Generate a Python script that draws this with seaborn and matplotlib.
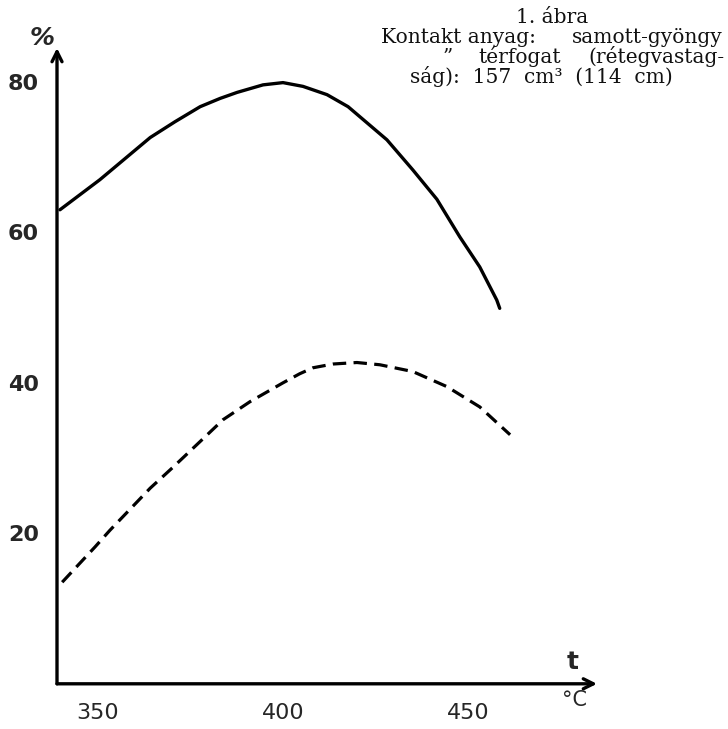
import matplotlib
matplotlib.use("Agg")
import matplotlib.pyplot as plt
import seaborn as sns
import pandas as pd

# ---- data ----
solid_t = [339.7, 350.5, 357.3, 364.1, 370.8, 377.6, 383.0, 387.6, 394.6, 400.0,
           405.4, 411.9, 417.6, 428.1, 435.1, 441.6, 447.8, 453.2, 457.8, 458.6]
solid_v = [63.0, 67.0, 69.8, 72.6, 74.7, 76.7, 77.8, 78.6, 79.6, 79.9,
           79.4, 78.3, 76.7, 72.3, 68.3, 64.4, 59.4, 55.4, 51.0, 49.9]

dashed_t = [340.3, 349.2, 353.2, 364.1, 370.3, 377.6, 383.8, 391.1, 400.0,
            404.5, 408.1, 413.5, 420.0, 426.2, 435.1, 444.3, 453.2, 461.4]
dashed_v = [13.5, 18.2, 20.4, 26.0, 28.8, 32.2, 35.1, 37.5, 40.0,
            41.2, 42.0, 42.5, 42.7, 42.4, 41.5, 39.5, 36.8, 33.1]

x_ticks = [350, 400, 450]
y_ticks = [20, 40, 60, 80]

df_solid = pd.DataFrame({"t": solid_t, "v": solid_v})
df_dashed = pd.DataFrame({"t": dashed_t, "v": dashed_v})

sns.set_style("white")
fig = plt.figure(figsize=(7.28, 7.29), dpi=100)
W, H = 728, 729
ax = fig.add_axes([57 / W, (H - 683.8) / H, (597 - 57) / W, (683.8 - 48) / H])

sns.lineplot(data=df_solid, x="t", y="v", ax=ax, color="black", lw=2.4, sort=False)
sns.lineplot(data=df_dashed, x="t", y="v", ax=ax, color="black", lw=2.3, sort=False)
ax.lines[-1].set_dashes((4.2, 2.3))
for ln in ax.lines:
    ln.set_solid_joinstyle("round")
    ln.set_dash_joinstyle("round")

ax.set_xlim(338.9, 484.9)
ax.set_ylim(0, 84.5)
ax.set_xlabel("")
ax.set_ylabel("")

for s in ["top", "right", "left", "bottom"]:
    ax.spines[s].set_visible(False)

# axes drawn as arrows
ax.annotate("", xy=(1.0, 0), xytext=(0, 0), xycoords="axes fraction",
            arrowprops=dict(arrowstyle="->", lw=2.4, color="black",
                            shrinkA=0, shrinkB=0, mutation_scale=18))
ax.annotate("", xy=(0, 1.0), xytext=(0, 0), xycoords="axes fraction",
            arrowprops=dict(arrowstyle="->", lw=2.4, color="black",
                            shrinkA=0, shrinkB=0, mutation_scale=18))

ax.set_xticks(x_ticks)
ax.set_xticklabels([str(v) for v in x_ticks])
ax.set_yticks(y_ticks)
ax.set_yticklabels([str(v) for v in y_ticks])
ax.tick_params(axis="both", direction="out", length=5, width=2, color="black")
ax.tick_params(axis="x", pad=9, labelsize=16)
ax.tick_params(axis="y", pad=8, labelsize=16)
for lab in ax.get_yticklabels():
    lab.set_fontweight("bold")
    lab.set_family("DejaVu Sans")
for lab in ax.get_xticklabels():
    lab.set_family("DejaVu Sans")

# axis labels
fig.text(42 / W, 1 - 38 / H, "%", fontsize=18, ha="center", va="center",
         style="italic", fontweight="bold")
fig.text(573 / W, 1 - 662 / H, "t", fontsize=18, ha="center", va="center",
         fontweight="bold")
fig.text(574 / W, 1 - 700 / H, "°C", fontsize=15, ha="center", va="center")

# caption block (serif)
serif = "DejaVu Serif"
fs = 14.5


def cap(x, y, s, ha="left"):
    fig.text(x / W, 1 - y / H, s, fontsize=fs, family=serif, ha=ha,
             va="baseline", color="#111111")


cap(552, 23, "1. ábra", ha="center")
cap(381, 43, "Kontakt anyag:")
cap(723, 43, "samott-gyöngy", ha="right")
cap(448, 63, "”", ha="center")
cap(478, 63, "térfogat")
cap(724, 63, "(rétegvastag-", ha="right")
cap(410, 83, "ság):  157  cm³  (114  cm)")

fig.savefig("out.png", dpi=100, facecolor="white")
